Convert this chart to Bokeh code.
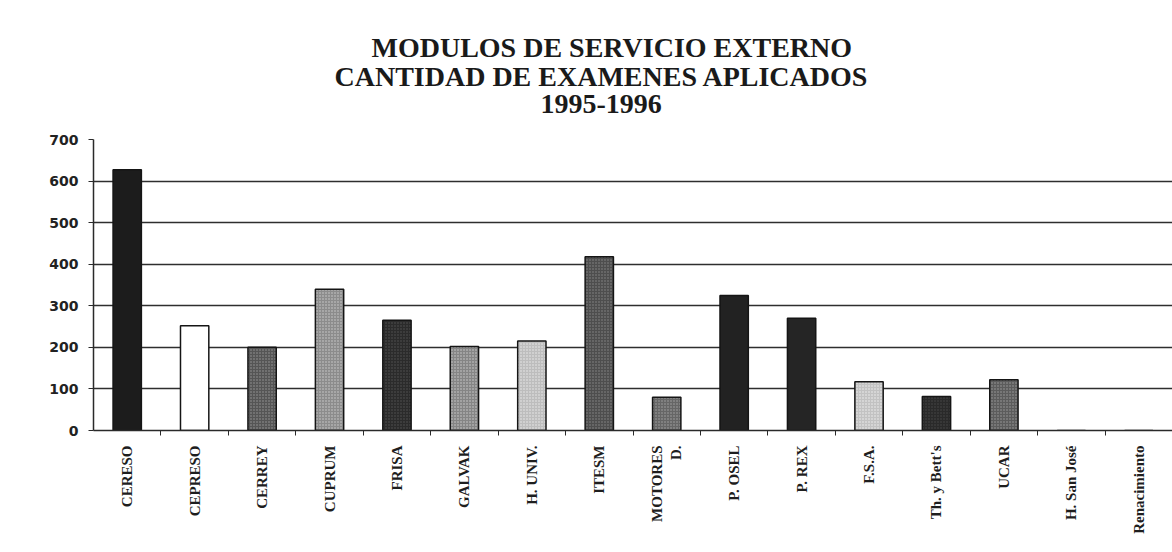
import math
from bokeh.plotting import figure
from bokeh.models import Range1d, FixedTicker, Title, ColumnDataSource, LinearAxis, Grid
from bokeh.embed import file_html
from bokeh.resources import INLINE

# ---- data ----
categories = ["CERESO", "CEPRESO", "CERREY", "CUPRUM", "FRISA", "GALVAK", "H. UNIV.",
              "ITESM", "MOTORES\nD.", "P. OSEL", "P. REX", "F.S.A.", "Th. y Bett's",
              "UCAR", "H. San José", "Renacimiento"]
examenes = [627, 252, 200, 340, 265, 202, 215, 418, 80, 325, 270, 117, 82, 122, 0, 0]
y_ticks = [0, 100, 200, 300, 400, 500, 600, 700]
title_lines = ["MODULOS DE SERVICIO EXTERNO", "CANTIDAD DE EXAMENES APLICADOS", "1995-1996"]

# bar appearance (approximate tones of the printed patterns)
fills = ["#1c1c1c", "#ffffff", "#555555", "#8c8c8c", "#2b2b2b", "#858585", "#bdbdbd",
         "#4e4e4e", "#666666", "#222222", "#252525", "#c2c2c2", "#2a2a2a", "#5c5c5c",
         "#ffffff", "#ffffff"]
hatches = ["blank", "blank", "dot", "dot", "dot", "dot", "dot",
           "dot", "dot", "blank", "blank", "dot", "dot", "dot", "blank", "blank"]
hatch_cols = ["#1c1c1c", "#ffffff", "#9a9a9a", "#d0d0d0", "#555555", "#cfcfcf", "#eeeeee",
              "#8a8a8a", "#a8a8a8", "#222222", "#252525", "#f2f2f2", "#4a4a4a", "#a0a0a0",
              "#ffffff", "#ffffff"]

idx = list(range(len(categories)))
src = ColumnDataSource(dict(x=idx, top=examenes, fill=fills, hatch=hatches, hcol=hatch_cols))

p = figure(width=1172, height=552, output_backend="svg", toolbar_location=None,
           x_range=Range1d(-0.5, len(categories) - 0.5), y_range=Range1d(0, 700),
           min_border_left=93, min_border_right=0, min_border_bottom=122, min_border_top=0,
           x_axis_type=None, y_axis_type=None)
p.background_fill_color = "white"
p.border_fill_color = "white"
p.outline_line_color = None

# horizontal gridlines
grid = Grid(dimension=1, ticker=FixedTicker(ticks=y_ticks[1:]),
            grid_line_color="#2e2e2e", grid_line_width=1.4)
p.add_layout(grid)

p.vbar(x="x", top="top", width=0.42, source=src, fill_color="fill",
       line_color="#151515", line_width=1.5,
       hatch_pattern="hatch", hatch_color="hcol", hatch_scale=3, hatch_weight=1.2)

# y axis
yax = LinearAxis(ticker=FixedTicker(ticks=y_ticks))
yax.axis_line_color = "#2a2a2a"
yax.axis_line_width = 1.5
yax.major_tick_line_color = "#2a2a2a"
yax.major_tick_out = 5
yax.major_tick_in = 0
yax.minor_tick_line_color = None
yax.major_label_text_font = "DejaVu Sans"
yax.major_label_text_font_style = "bold"
yax.major_label_text_font_size = "14px"
yax.major_label_text_color = "#222222"
yax.major_label_standoff = 10
p.add_layout(yax, "left")

# x axis: labels at category centres, ticks at category boundaries
xax = LinearAxis(ticker=FixedTicker(ticks=idx, minor_ticks=[i + 0.5 for i in idx]))
xax.major_label_overrides = {i: c for i, c in zip(idx, categories)}
xax.major_label_orientation = math.pi / 2
xax.major_tick_line_color = None
xax.major_tick_out = 0
xax.major_tick_in = 0
xax.minor_tick_line_color = "#2a2a2a"
xax.minor_tick_out = 5
xax.minor_tick_in = 0
xax.axis_line_color = "#2a2a2a"
xax.axis_line_width = 1.5
xax.major_label_text_font = "Liberation Serif"
xax.major_label_text_font_style = "bold"
xax.major_label_text_font_size = "15px"
xax.major_label_text_color = "#1e1e1e"
xax.major_label_standoff = 10
p.add_layout(xax, "below")

# title block, stacked upward from the frame: spacer, line 3, line 2, line 1, top margin
def spacer(gap):
    return Title(text=" ", text_font_size="1px", standoff=gap)

p.add_layout(spacer(19), "above")
offsets = [278, 241, 447]
standoffs = [0, -8, 10]
for txt, off, so in reversed(list(zip(title_lines, offsets, standoffs))):
    p.add_layout(Title(text=txt, align="left", offset=off, standoff=so,
                       text_font="Liberation Serif", text_font_style="bold",
                       text_font_size="28px", text_color="#1a1a1a"), "above")
p.add_layout(spacer(26), "above")

open("out.html", "w").write(file_html(p, INLINE))
